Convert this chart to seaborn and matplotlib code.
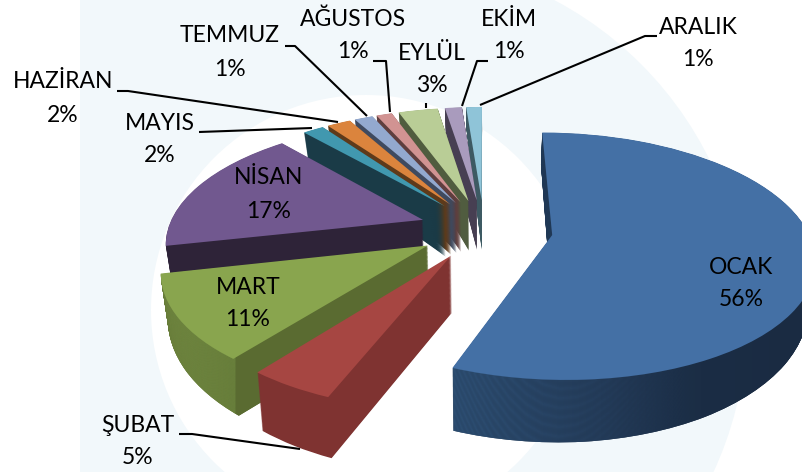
import numpy as np
import matplotlib
matplotlib.use("Agg")
import matplotlib.pyplot as plt
import matplotlib.colors as mcolors
from matplotlib.patches import Circle, Rectangle
from matplotlib.transforms import Transform
import seaborn as sns

months = ["OCAK", "ŞUBAT", "MART", "NİSAN", "MAYIS", "HAZİRAN", "TEMMUZ", "AĞUSTOS", "EYLÜL", "EKİM", "ARALIK"]
# slice sizes estimated from the angles, labels show them rounded
shares = [56.0, 4.5, 11.0, 17.0, 1.6, 1.8, 1.4, 1.2, 3.0, 1.3, 1.2]
labels = [56, 5, 11, 17, 2, 2, 1, 1, 3, 1, 1]
explode = [0.27, 0.25, 0.255, 0.255, 0.255, 0.255, 0.255, 0.255, 0.255, 0.255, 0.255]

top_colors = ["#4470a5", "#a64642", "#89a54e", "#71588f", "#4198af", "#db843d",
              "#93a9cf", "#d19392", "#b9cd96", "#a99bbd", "#8fc4d8"]
wall_colors = ["#1b2e45", "#7f3331", "#5a6b31", "#2e2338", "#1a3b47", "#5e3a1a",
               "#3f4a5f", "#5f3e3e", "#505c3f", "#473f52", "#3d5a63"]
# rear slices first, each one hides the wall of its right neighbour
draw_rank = [10, 9, 8, 7, 6, 5, 4, 3, 2, 1, 0]

label_xy = [(741, 267), (138, 425), (248, 287), (269, 178), (160, 123), (63, 82),
            (230, 36), (353, 19), (432, 53), (509, 19), (698, 27)]
leaders = {
    "ŞUBAT": [(179, 434), (192, 434), (300, 449)],
    "MAYIS": [(199, 132), (312, 128)],
    "HAZİRAN": [(117, 91), (128, 91), (338, 122)],
    "TEMMUZ": [(285, 46), (295, 46), (367, 116)],
    "AĞUSTOS": [(373, 61), (386, 61), (390, 112)],
    "EYLÜL": [(426, 103), (426, 108)],
    "EKİM": [(488, 61), (477, 61), (462, 106)],
    "ARALIK": [(657, 36), (645, 36), (480, 105)],
}

# rim shading, x pixel -> colour
rim_shade = {
    0: ([455, 600, 700, 803], ["#305379", "#263f5e", "#1b2d45", "#1a2b42"]),
    2: ([150, 234, 236, 440], ["#7b9448", "#6d853f", "#5a6b31", "#5a6b31"]),
}

CX, CY, RX, RY, K = 484, 229, 255, 118, 0.17
N_LAYERS = 70


class PieView(Transform):
    """Tilted pie plane -> pixel position, z is how far down the wall."""
    input_dims = 2
    output_dims = 2

    def __init__(self, z=0.0):
        super().__init__()
        self.z = z

    def transform_non_affine(self, xy):
        xy = np.asarray(xy, dtype=float)
        u, v = xy[:, 0], xy[:, 1]
        w = 1 + K * v
        # wall height: tall in the middle and front, short at rear and sides
        wall = 54 - 8.6 * u ** 2 - 16 * v - 7 * v ** 2
        x = CX + RX * u / w * (1 - 0.022 * self.z)
        y = CY - RY * v / w + wall * self.z
        return np.column_stack([x, y])


sns.set_theme(style="white")
plt.rcParams["font.family"] = ["Lato", "DejaVu Sans"]

fig = plt.figure(figsize=(8.03, 4.72), dpi=100)
ax = fig.add_axes([0, 0, 1, 1])

# pale watermark behind the pie
pale = "#f2f8fb"
ax.add_patch(Rectangle((80, 0), 320, 472, color=pale, lw=0, zorder=-5))
ax.add_patch(Circle((385, 320), 362, color=pale, lw=0, zorder=-5))
ax.add_patch(Circle((366, 310), 215, color="white", lw=0, zorder=-4))
ax.add_patch(Rectangle((0, 0), 80, 472, color="white", lw=0, zorder=-3))

for z in np.linspace(1, 0, N_LAYERS):
    colors = top_colors if z == 0 else sns.color_palette(wall_colors)
    wedges, _ = ax.pie(shares, explode=explode, colors=colors, startangle=90,
                       counterclock=False, radius=1, wedgeprops={"linewidth": 0})
    for i, wedge in enumerate(wedges):
        zo = draw_rank[i] + (1 - z) * 0.9
        wedge.set_transform(PieView(z) + ax.transData)
        wedge.set_zorder(zo)
        if z > 0 and i in rim_shade:
            xs, cols = rim_shade[i]
            rgb = np.array([mcolors.to_rgb(c) for c in cols])
            grid = np.arange(803)
            grad = np.stack([np.interp(grid, xs, rgb[:, c]) for c in range(3)], axis=-1)[None, :, :]
            im = ax.imshow(grad, extent=(0, 803, 472, 0), aspect="auto", zorder=zo + 0.001)
            im.set_clip_path(wedge)

ax.set_aspect("auto")
ax.set_xlim(0, 803)
ax.set_ylim(472, 0)
ax.axis("off")

for name, pct, (lx, ly) in zip(months, labels, label_xy):
    ax.text(lx, ly, name, ha="center", va="center", fontsize=16.5, color="black", zorder=50)
    ax.text(lx, ly + 33, f"{pct}%", ha="center", va="center", fontsize=16.5, color="black", zorder=50)

for name, pts in leaders.items():
    xs, ys = zip(*pts)
    ax.plot(xs, ys, color="black", lw=1.5, zorder=40, solid_capstyle="butt")

fig.savefig("out.png", dpi=100)
